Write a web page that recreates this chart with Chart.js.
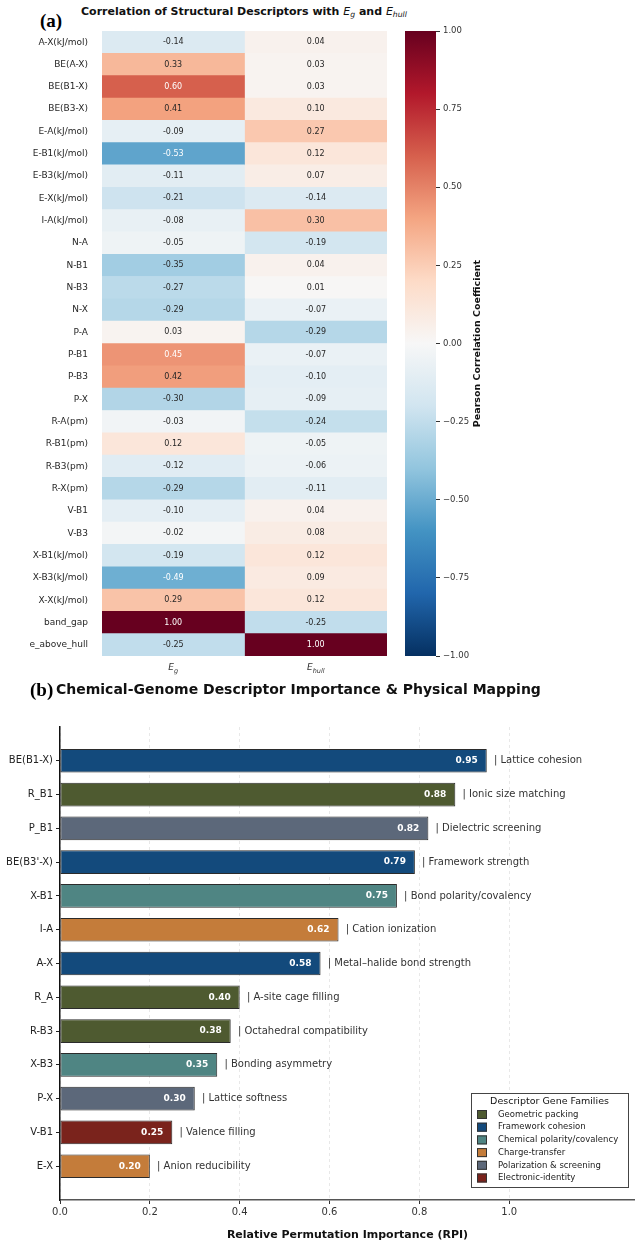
<!DOCTYPE html>
<html>
<head>
<meta charset="utf-8">
<script src="https://cdn.jsdelivr.net/npm/chart.js@4.4.1/dist/chart.umd.min.js"></script>
<style>
  body { margin: 0; background: #fff; width: 635px; height: 1250px; position: relative; overflow: hidden; font-family: "DejaVu Sans", sans-serif; }
  .box { position: absolute; }
  .tag { position: absolute; font-family: "Liberation Serif", serif; font-weight: bold; font-size: 19px; line-height: 1; color: #000; }
  .ttl { position: absolute; font-weight: bold; color: #111; white-space: nowrap; line-height: 1; }
  .ttl i { font-weight: normal; }
  .ttl sub { font-size: 70%; font-style: italic; font-weight: normal; vertical-align: -0.3em; line-height: 0; }
</style>
</head>
<body>
<div class="tag" style="left:40px;top:11px">(a)</div>
<div class="ttl" style="left:81px;top:6px;font-size:11px">Correlation of Structural Descriptors with <i>E</i><sub>g</sub> and <i>E</i><sub>hull</sub></div>
<div class="box" style="left:0;top:0;width:400px;height:690px"><canvas id="heatChart"></canvas></div>
<div class="box" style="left:395px;top:0;width:240px;height:690px"><canvas id="cbarChart"></canvas></div>
<div class="tag" style="left:30px;top:680px">(b)</div>
<div class="ttl" style="left:56px;top:682px;font-size:14px">Chemical-Genome Descriptor Importance &amp; Physical Mapping</div>
<div class="box" style="left:0;top:700px;width:635px;height:550px"><canvas id="rpiChart"></canvas></div>

<script>
// ---- panel (a) data
const heatRows = ['A-X(kJ/mol)', 'BE(A-X)', 'BE(B1-X)', 'BE(B3-X)', 'E-A(kJ/mol)', 'E-B1(kJ/mol)', 'E-B3(kJ/mol)',
  'E-X(kJ/mol)', 'I-A(kJ/mol)', 'N-A', 'N-B1', 'N-B3', 'N-X', 'P-A', 'P-B1', 'P-B3', 'P-X', 'R-A(pm)', 'R-B1(pm)',
  'R-B3(pm)', 'R-X(pm)', 'V-B1', 'V-B3', 'X-B1(kJ/mol)', 'X-B3(kJ/mol)', 'X-X(kJ/mol)', 'band_gap', 'e_above_hull'];
const egCorr = [-0.14, 0.33, 0.60, 0.41, -0.09, -0.53, -0.11, -0.21, -0.08, -0.05, -0.35, -0.27, -0.29, 0.03,
  0.45, 0.42, -0.30, -0.03, 0.12, -0.12, -0.29, -0.10, -0.02, -0.19, -0.49, 0.29, 1.00, -0.25];
const ehullCorr = [0.04, 0.03, 0.03, 0.10, 0.27, 0.12, 0.07, -0.14, 0.30, -0.19, 0.04, 0.01, -0.07, -0.29,
  -0.07, -0.10, -0.09, -0.24, -0.05, -0.06, -0.11, 0.04, 0.08, 0.12, 0.09, 0.12, -0.25, 1.00];
const heatColMain = ['E', 'E'];
const heatColSub = ['g', 'hull'];
const cbarTicks = [-1, -0.75, -0.5, -0.25, 0, 0.25, 0.5, 0.75, 1];

// ---- panel (b) data
const rpiNames = ['BE(B1-X)', 'R_B1', 'P_B1', "BE(B3'-X)", 'X-B1', 'I-A', 'A-X', 'R_A', 'R-B3', 'X-B3', 'P-X', 'V-B1', 'E-X'];
const rpiValues = [0.95, 0.88, 0.82, 0.79, 0.75, 0.62, 0.58, 0.40, 0.38, 0.35, 0.30, 0.25, 0.20];
const rpiFamilies = ['Framework cohesion', 'Geometric packing', 'Polarization & screening', 'Framework cohesion',
  'Chemical polarity/covalency', 'Charge-transfer', 'Framework cohesion', 'Geometric packing', 'Geometric packing',
  'Chemical polarity/covalency', 'Polarization & screening', 'Electronic-identity', 'Charge-transfer'];
const rpiRoles = ['Lattice cohesion', 'Ionic size matching', 'Dielectric screening', 'Framework strength',
  'Bond polarity/covalency', 'Cation ionization', 'Metal\u2013halide bond strength', 'A-site cage filling',
  'Octahedral compatibility', 'Bonding asymmetry', 'Lattice softness', 'Valence filling', 'Anion reducibility'];
const familyNames = ['Geometric packing', 'Framework cohesion', 'Chemical polarity/covalency', 'Charge-transfer',
  'Polarization & screening', 'Electronic-identity'];
const familyColors = ['#4e5a30', '#134a7c', '#4f8583', '#c47c3a', '#5c687a', '#7a231c'];
const rpiTicks = [0, 0.2, 0.4, 0.6, 0.8, 1.0];

Chart.defaults.font.family = "'DejaVu Sans', sans-serif";
Chart.defaults.animation = false;

// RdBu_r colormap
const rdbuStops = ['#053061', '#2166ac', '#4393c3', '#92c5de', '#d1e5f0', '#f7f7f7',
  '#fddbc7', '#f4a582', '#d6604d', '#b2182b', '#67001f'];
function hexRgb(h) {
  return [1, 3, 5].map(k => parseInt(h.substr(k, 2), 16));
}
function rdbu(v) {
  const t = (Math.max(-1, Math.min(1, v)) + 1) / 2 * 10;
  const i = Math.min(9, Math.floor(t));
  const f = t - i;
  const a = hexRgb(rdbuStops[i]), b = hexRgb(rdbuStops[i + 1]);
  const c = a.map((x, k) => Math.round(x + (b[k] - x) * f));
  return 'rgb(' + c.join(',') + ')';
}

// HEATMAP

const heatLabels = {
  id: 'heatLabels',
  afterDatasetsDraw(chart) {
    const ctx = chart.ctx;
    ctx.save();
    ctx.textAlign = 'center';
    ctx.textBaseline = 'middle';
    ctx.font = "8px 'DejaVu Sans'";
    [egCorr, ehullCorr].forEach((vals, c) => {
      chart.getDatasetMeta(c).data.forEach((el, r) => {
        const v = vals[r];
        ctx.fillStyle = Math.abs(v) >= 0.44 ? '#ffffff' : '#262626';
        ctx.fillText(v.toFixed(2), (el.x + el.base) / 2, el.y);
      });
    });
    // column labels E_g / E_hull
    const xs = chart.scales.x;
    const y = chart.chartArea.bottom + 12;
    ctx.fillStyle = '#333';
    ctx.textAlign = 'left';
    heatColMain.forEach((m, c) => {
      ctx.font = "italic 9px 'DejaVu Sans'";
      const w1 = ctx.measureText(m).width;
      ctx.font = "italic 6.5px 'DejaVu Sans'";
      const w2 = ctx.measureText(heatColSub[c]).width;
      const x0 = xs.getPixelForValue(c + 0.5) - (w1 + w2) / 2;
      ctx.font = "italic 9px 'DejaVu Sans'";
      ctx.fillText(m, x0, y);
      ctx.font = "italic 6.5px 'DejaVu Sans'";
      ctx.fillText(heatColSub[c], x0 + w1, y + 3);
    });
    ctx.restore();
  }
};

const heatChart = new Chart(document.getElementById('heatChart'), {
  type: 'bar',
  data: {
    labels: heatRows,
    datasets: [egCorr, ehullCorr].map((vals, c) => ({
      label: heatColMain[c] + '_' + heatColSub[c],
      data: vals.map(() => [c, c + 1]),
      backgroundColor: vals.map(rdbu),
      borderWidth: 0,
      barPercentage: 1,
      categoryPercentage: 1,
      grouped: false
    }))
  },
  options: {
    indexAxis: 'y',
    responsive: true,
    maintainAspectRatio: false,
    layout: { padding: { top: 31, right: 13, bottom: 34, left: 0 } },
    plugins: { legend: { display: false }, tooltip: { enabled: false } },
    scales: {
      x: { type: 'linear', min: 0, max: 2, display: false },
      y: {
        afterFit: s => { s.width = 102; },
        grid: { display: false },
        border: { display: false },
        ticks: { font: { size: 9 }, color: '#262626', padding: 6, autoSkip: false }
      }
    }
  },
  plugins: [heatLabels]
});

// COLORBAR

function cbarGradient(chart) {
  const area = chart.chartArea;
  if (!area) return rdbuStops[5];
  const g = chart.ctx.createLinearGradient(0, area.bottom, 0, area.top);
  rdbuStops.forEach((c, i) => g.addColorStop(i / 10, c));
  return g;
}

const cbarLabel = {
  id: 'cbarLabel',
  afterDraw(chart) {
    const ctx = chart.ctx;
    const a = chart.chartArea;
    ctx.save();
    ctx.translate(83, (a.top + a.bottom) / 2);
    ctx.rotate(-Math.PI / 2);
    ctx.font = "bold 9.5px 'DejaVu Sans'";
    ctx.fillStyle = '#111';
    ctx.textAlign = 'center';
    ctx.textBaseline = 'middle';
    ctx.fillText('Pearson Correlation Coefficient', 0, 0);
    ctx.restore();
  }
};

const cbarChart = new Chart(document.getElementById('cbarChart'), {
  type: 'bar',
  data: {
    labels: [''],
    datasets: [{
      data: [[cbarTicks[0], cbarTicks[cbarTicks.length - 1]]],
      backgroundColor: ctx => cbarGradient(ctx.chart),
      borderWidth: 0,
      barPercentage: 1,
      categoryPercentage: 1
    }]
  },
  options: {
    responsive: true,
    maintainAspectRatio: false,
    layout: { padding: { top: 31, right: 0, bottom: 34, left: 10 } },
    plugins: { legend: { display: false }, tooltip: { enabled: false } },
    scales: {
      x: { display: false },
      y: {
        position: 'right',
        min: -1,
        max: 1,
        afterBuildTicks: s => { s.ticks = cbarTicks.map(v => ({ value: v })); },
        afterFit: s => { s.width = 199; },
        grid: { drawOnChartArea: false, drawTicks: true, tickLength: 4, tickColor: '#333' },
        border: { display: false },
        ticks: {
          font: { size: 8.5 },
          color: '#333',
          padding: 3,
          callback: v => (v < 0 ? '\u2212' : '') + Math.abs(v).toFixed(2)
        }
      }
    }
  },
  plugins: [cbarLabel]
});

// RPI BARS

const barNotes = {
  id: 'barNotes',
  afterDatasetsDraw(chart) {
    const ctx = chart.ctx;
    const xs = chart.scales.x;
    ctx.save();
    ctx.textBaseline = 'middle';
    chart.getDatasetMeta(0).data.forEach((el, i) => {
      const v = rpiValues[i];
      ctx.font = "bold 9px 'DejaVu Sans'";
      ctx.fillStyle = '#ffffff';
      ctx.textAlign = 'right';
      ctx.fillText(v.toFixed(2), xs.getPixelForValue(v - 0.02), el.y);
      ctx.font = "10px 'DejaVu Sans'";
      ctx.fillStyle = '#333';
      ctx.textAlign = 'left';
      ctx.fillText('| ' + rpiRoles[i], xs.getPixelForValue(v + 0.016), el.y);
    });
    ctx.restore();
  }
};

const familyLegend = {
  id: 'familyLegend',
  afterDraw(chart) {
    const ctx = chart.ctx;
    const a = chart.chartArea;
    const w = 157, h = 94;
    const x0 = a.right - 7 - w, y0 = a.bottom - 13 - h;
    ctx.save();
    ctx.fillStyle = '#fff';
    ctx.fillRect(x0, y0, w, h);
    ctx.strokeStyle = '#444';
    ctx.lineWidth = 1;
    ctx.strokeRect(x0 + 0.5, y0 + 0.5, w, h);
    ctx.fillStyle = '#111';
    ctx.textAlign = 'center';
    ctx.textBaseline = 'middle';
    ctx.font = "9.5px 'DejaVu Sans'";
    ctx.fillText('Descriptor Gene Families', x0 + w / 2, y0 + 9);
    ctx.textAlign = 'left';
    ctx.font = "8.5px 'DejaVu Sans'";
    familyNames.forEach((name, k) => {
      const y = y0 + 21.5 + k * 12.7;
      ctx.fillStyle = familyColors[k];
      ctx.fillRect(x0 + 6, y - 4.5, 10, 9);
      ctx.strokeStyle = '#333';
      ctx.strokeRect(x0 + 6.5, y - 4, 9, 8);
      ctx.fillStyle = '#222';
      ctx.fillText(name, x0 + 27, y);
    });
    ctx.restore();
  }
};

const rpiChart = new Chart(document.getElementById('rpiChart'), {
  type: 'bar',
  data: {
    datasets: [{
      label: 'RPI',
      data: rpiValues.map((v, i) => ({ x: v, y: i })),
      backgroundColor: rpiFamilies.map(f => familyColors[familyNames.indexOf(f)]),
      borderColor: '#2b2b2b',
      borderWidth: 1,
      borderSkipped: false,
      barPercentage: 0.7,
      categoryPercentage: 1
    }]
  },
  options: {
    indexAxis: 'y',
    responsive: true,
    maintainAspectRatio: false,
    layout: { padding: { top: 27, right: 0, bottom: 0, left: 0 } },
    plugins: { legend: { display: false }, tooltip: { enabled: false } },
    scales: {
      x: {
        type: 'linear',
        min: 0,
        max: 1.28,
        afterBuildTicks: s => { s.ticks = rpiTicks.map(v => ({ value: v })); },
        afterFit: s => { s.height = 50; },
        grid: { color: '#e2e2e2', lineWidth: 0.8, drawTicks: true, tickLength: 4, tickColor: '#333', tickWidth: 1 },
        border: { color: '#555', width: 1.6, dash: [3, 3] },
        ticks: { font: { size: 10 }, color: '#333', padding: 2, callback: v => v.toFixed(1) },
        title: {
          display: true,
          text: 'Relative Permutation Importance (RPI)',
          font: { size: 11, weight: 'bold' },
          color: '#111',
          padding: { top: 0, bottom: 8.5 }
        }
      },
      y: {
        type: 'linear',
        reverse: true,
        offset: false,
        min: -1,
        max: 13,
        afterBuildTicks: s => { s.ticks = rpiNames.map((_, i) => ({ value: i })); },
        afterFit: s => { s.width = 60; },
        grid: { offset: false, drawOnChartArea: false, drawTicks: true, tickLength: 4, tickColor: '#222' },
        border: { color: '#111', width: 1.5 },
        ticks: { font: { size: 10 }, color: '#222', padding: 3, autoSkip: false, callback: v => rpiNames[v] }
      }
    }
  },
  plugins: [barNotes, familyLegend]
});
</script>
</body>
</html>
